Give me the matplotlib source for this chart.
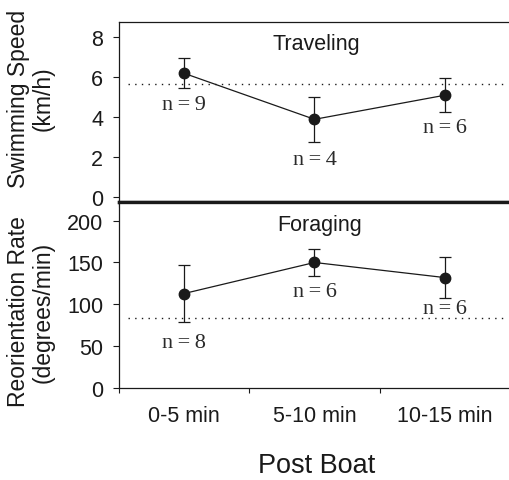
import matplotlib
matplotlib.use("Agg")
import matplotlib.pyplot as plt

# ---- data ----
categories = ["0-5 min", "5-10 min", "10-15 min"]
speed_mean = [6.18, 3.89, 5.09]
speed_err = [0.75, 1.12, 0.85]
speed_n = ["n\u2009=\u20099", "n\u2009=\u20094", "n\u2009=\u20096"]
speed_ref = 5.63
speed_ticks = [0, 2, 4, 6, 8]

reorient_mean = [113, 150, 132]
reorient_err = [34, 16, 24]
reorient_n = ["n\u2009=\u20098", "n\u2009=\u20096", "n\u2009=\u20096"]
reorient_ref = 83.5
reorient_ticks = [0, 50, 100, 150, 200]

# label positions (data y) for the n annotations
speed_n_y = [4.64, 1.9, 3.5]
reorient_n_y = [55, 115, 94.6]

plt.rcParams['font.family'] = ['Liberation Sans', 'DejaVu Sans']
C = '#1a1a1a'

W, H = 510, 481
fig = plt.figure(figsize=(W / 100, H / 100), dpi=100)

left = 119 / W
right = 1.0
mid = 1 - 202.5 / H
top = 1 - 23.3 / H
bot = 1 - 389.3 / H

ax1 = fig.add_axes([left, mid, right - left, top - mid])
ax2 = fig.add_axes([left, bot, right - left, mid - bot])

xpos = [0.5, 1.5, 2.5]
xmax = (W - 119) / 132.0

for ax, mean, err, nlab, ny, ref, ticks, ylim in [
    (ax1, speed_mean, speed_err, speed_n, speed_n_y, speed_ref, speed_ticks, (-0.2, 8.72)),
    (ax2, reorient_mean, reorient_err, reorient_n, reorient_n_y, reorient_ref, reorient_ticks, (0, 222.7)),
]:
    ax.errorbar(xpos, mean, yerr=err, color=C, lw=0.9, elinewidth=0.9,
                capsize=4, capthick=0.9, marker='o', markersize=7.5, zorder=3)
    ax.plot([0.07, xmax], [ref, ref], color=C, lw=1.0, linestyle=(0, (1, 3.8)), zorder=2)
    for x, y, t in zip(xpos, ny, nlab):
        ax.text(x, y, t, ha='center', va='center', fontsize=16,
                family=['Liberation Serif', 'DejaVu Serif'], color='#2a2a2a')
    ax.set_xlim(0, xmax)
    ax.set_ylim(*ylim)
    ax.set_yticks(ticks)
    ax.tick_params(axis='y', direction='out', length=4.3, width=0.8, pad=7,
                   labelsize=15.5, colors=C)
    ax.set_xticks([0, 1, 2, 3])
    ax.tick_params(axis='x', which='major', direction='out', length=3.6, width=0.8,
                   labelbottom=False, colors=C)
    for s in ax.spines.values():
        s.set_color(C)
        s.set_linewidth(0.9)
    ax.spines['right'].set_visible(False)

ax1.spines['bottom'].set_linewidth(2.4)
ax2.spines['top'].set_linewidth(2.4)

ax2.set_xticks(xpos, minor=True)
ax2.set_xticklabels(categories, minor=True)
ax2.tick_params(axis='x', which='minor', length=0, pad=12, labelsize=15.5, colors=C)

fig.text(316 / W, 1 - 50 / H, "Traveling", ha='center', va='baseline', fontsize=15.5, color=C)
fig.text(320 / W, 1 - 231 / H, "Foraging", ha='center', va='baseline', fontsize=15.5, color=C)

fig.text(31 / W, 1 - 99 / H, "Swimming Speed\n(km/h)", rotation=90, ha='center', va='center',
         multialignment='center', fontsize=16.5, color=C, linespacing=1.1)
fig.text(31 / W, 1 - 312 / H, "Reorientation Rate\n(degrees/min)", rotation=90, ha='center',
         va='center', multialignment='center', fontsize=16.5, color=C, linespacing=1.1)

fig.text(317 / W, 2 / H, "Post Boat", ha='center', va='bottom', fontsize=19.5, color=C)

fig.savefig("out.png", dpi=100)
